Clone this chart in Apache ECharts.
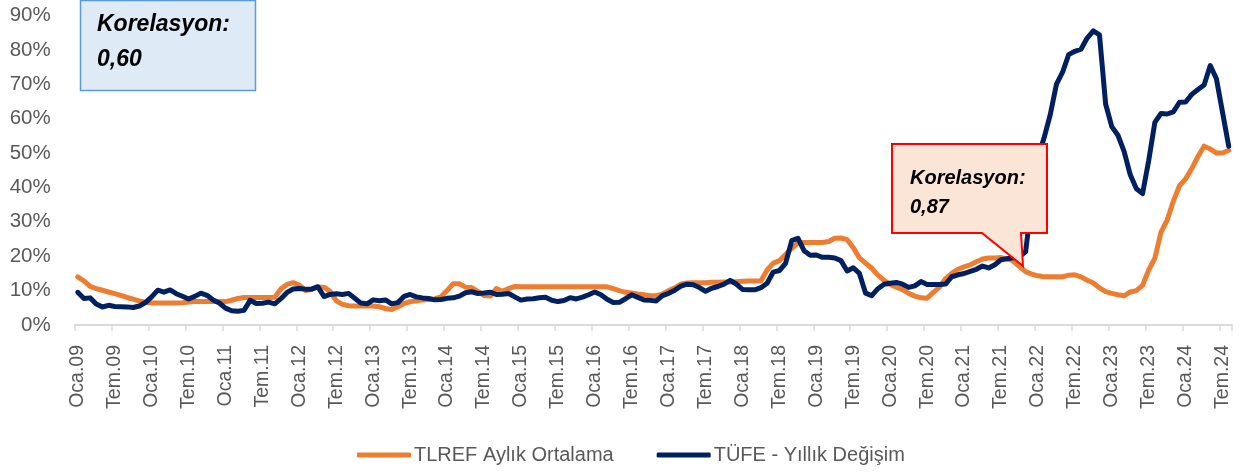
<!DOCTYPE html>
<html>
<head>
<meta charset="utf-8">
<script src="https://cdn.jsdelivr.net/npm/echarts@6/dist/echarts.min.js"></script>
<style>
html,body{margin:0;padding:0;background:#fff;}
#c{width:1245px;height:472px;}
</style>
</head>
<body>
<div id="c"></div>
<script>
// Turkish month abbreviations and years (Oca.09 ... Ağu.24)
const monthNames = ['Oca','Şub','Mar','Nis','May','Haz','Tem','Ağu','Eyl','Eki','Kas','Ara'];
const years = ['09','10','11','12','13','14','15','16','17','18','19','20','21','22','23','24'];
const lastYearMonths = 8;

// TLREF monthly average (%)
const tlref = [
  14.0,12.8,11.2,10.6,10.1,9.6,9.1,8.6,8.0,7.5,7.0,6.6,
  6.4,6.4,6.4,6.4,6.4,6.5,6.7,6.8,6.8,6.8,6.8,6.8,
  6.8,7.2,7.7,8.0,8.0,8.0,8.0,8.0,8.1,10.5,11.8,12.3,
  11.6,10.0,10.4,11.0,11.0,9.8,7.0,6.0,5.6,5.5,5.5,5.5,
  5.5,5.3,4.8,4.5,5.3,6.2,6.8,7.0,7.3,7.4,7.6,8.2,
  10.0,12.0,12.0,11.0,10.9,9.8,8.6,8.4,10.6,9.8,10.6,11.2,
  11.1,11.1,11.1,11.1,11.1,11.1,11.1,11.1,11.1,11.1,11.1,11.1,
  11.1,11.1,11.1,10.6,10.0,9.5,9.3,9.0,8.8,8.5,8.5,9.0,
  10.0,10.8,11.9,12.2,12.3,12.3,12.3,12.4,12.4,12.5,12.5,12.6,
  12.7,12.8,12.8,12.9,16.0,18.0,18.7,20.5,22.3,23.9,24.0,24.0,
  24.0,24.0,24.3,25.2,25.3,24.8,22.5,19.5,18.0,16.5,14.5,13.0,
  11.8,11.0,10.3,9.2,8.4,7.9,7.8,9.5,11.0,13.5,15.0,16.2,
  16.9,17.5,18.4,19.2,19.5,19.5,19.6,19.3,18.6,17.0,15.5,14.8,
  14.3,14.0,14.0,14.0,14.0,14.5,14.6,14.0,13.0,12.2,10.8,9.7,
  9.2,8.8,8.5,9.6,10.0,11.5,16.0,19.4,27.0,30.5,36.0,40.5,
  42.5,45.5,49.0,52.0,51.2,50.0,50.0,50.8
];

// TÜFE annual change (%)
const tufe = [
  9.50,7.73,7.89,6.13,5.24,5.73,5.39,5.33,5.27,5.08,5.53,6.53,
  8.19,10.13,9.56,10.19,9.10,8.37,7.58,8.33,9.24,8.62,7.29,6.40,
  4.90,4.16,3.99,4.26,7.17,6.24,6.31,6.65,6.15,7.66,9.48,10.45,
  10.61,10.43,10.43,11.14,8.28,8.87,9.07,8.88,9.19,7.80,6.37,6.16,
  7.31,7.03,7.29,6.13,6.51,8.30,8.88,8.17,7.88,7.71,7.32,7.40,
  7.75,7.89,8.39,9.38,9.66,9.16,9.32,9.54,8.86,8.96,9.15,8.17,
  7.24,7.55,7.61,7.91,8.09,7.20,6.81,7.14,7.95,7.58,8.10,8.81,
  9.58,8.78,7.46,6.57,6.58,7.64,8.79,8.05,7.28,7.16,7.00,8.53,
  9.22,10.13,11.29,11.87,11.72,10.90,9.79,10.68,11.20,11.90,12.98,11.92,
  10.35,10.26,10.23,10.85,12.15,15.39,15.85,17.90,24.52,25.24,21.62,20.30,
  20.35,19.67,19.71,19.50,18.71,15.72,16.65,15.01,9.26,8.55,10.56,11.84,
  12.15,12.37,11.86,10.94,11.39,12.62,11.76,11.77,11.75,11.89,14.03,14.60,
  14.97,15.61,16.19,17.14,16.59,17.53,18.95,19.25,19.58,19.89,21.31,36.08,
  48.69,54.44,61.14,69.97,73.50,78.62,79.60,80.21,83.45,85.51,84.39,64.27,
  57.68,55.18,50.51,43.68,39.59,38.21,47.83,58.94,61.53,61.36,61.98,64.77,
  64.86,67.07,68.50,69.80,75.45,71.60,61.78,51.97
];

const seriesNames = ['TLREF Aylık Ortalama', 'TÜFE - Yıllık Değişim'];
const corrTexts = [['Korelasyon:', '0,60'], ['Korelasyon:', '0,87']];

const categories = [];
years.forEach((y, yi) => {
  const n = yi === years.length - 1 ? lastYearMonths : 12;
  for (let m = 0; m < n; m++) categories.push(monthNames[m] + '.' + y);
});

const FONT = 'Liberation Sans';
const chart = echarts.init(document.getElementById('c'), null, {renderer: 'canvas'});
chart.setOption({
  animation: false,
  backgroundColor: '#ffffff',
  textStyle: {fontFamily: FONT},
  grid: {left: 74.7, right: 13.2, top: 15.5, bottom: 147, containLabel: false},
  legend: {
    left: 352, top: 440,
    itemWidth: 54, itemHeight: 5, itemGap: 43,
    icon: 'roundRect',
    textStyle: {fontSize: 20, color: '#595959', fontFamily: FONT, padding: [0, 0, 0, -2]},
    data: seriesNames
  },
  xAxis: {
    type: 'category',
    data: categories,
    boundaryGap: true,
    axisLine: {lineStyle: {color: '#D9D9D9', width: 2}},
    axisTick: {show: true, interval: 5, length: 6, alignWithLabel: false, lineStyle: {color: '#D9D9D9', width: 1.5}},
    axisLabel: {interval: 5, rotate: 90, margin: 20, fontSize: 19.5, color: '#595959', fontFamily: FONT},
    splitLine: {show: false}
  },
  yAxis: {
    type: 'value',
    min: 0, max: 90, interval: 10,
    axisLine: {show: false},
    axisTick: {show: false},
    splitLine: {show: false},
    axisLabel: {formatter: '{value}%', fontSize: 20.5, color: '#595959', margin: 24, fontFamily: FONT}
  },
  series: [
    {
      name: seriesNames[0], type: 'line', data: tlref, symbol: 'none', smooth: false,
      itemStyle: {color: '#ED7D31'},
      lineStyle: {color: '#ED7D31', width: 5, cap: 'round', join: 'round'}
    },
    {
      name: seriesNames[1], type: 'line', data: tufe, symbol: 'none', smooth: false,
      itemStyle: {color: '#002060'},
      lineStyle: {color: '#002060', width: 5, cap: 'round', join: 'round'}
    }
  ],
  graphic: [
    {
      type: 'rect', shape: {x: 80.5, y: 0.5, width: 175, height: 90},
      style: {fill: '#DEEBF7', stroke: '#5B9BD5', lineWidth: 1.5}, z: 100
    },
    {
      type: 'text', x: 97, y: 25, z: 101,
      style: {text: corrTexts[0][0], font: 'italic bold 23px "Liberation Sans"', fill: '#000', verticalAlign: 'middle'}
    },
    {
      type: 'text', x: 97, y: 60, z: 101,
      style: {text: corrTexts[0][1], font: 'italic bold 23px "Liberation Sans"', fill: '#000', verticalAlign: 'middle'}
    },
    {
      type: 'polygon', z: 100,
      shape: {points: [[892,144],[1047,144],[1047,233],[1021,233],[1023,266],[982,233],[892,233]]},
      style: {fill: '#FBE5D6', stroke: '#FF0000', lineWidth: 2}
    },
    {
      type: 'text', x: 910, y: 178, z: 101,
      style: {text: corrTexts[1][0], font: 'italic bold 20px "Liberation Sans"', fill: '#000', verticalAlign: 'middle'}
    },
    {
      type: 'text', x: 910, y: 207, z: 101,
      style: {text: corrTexts[1][1], font: 'italic bold 20px "Liberation Sans"', fill: '#000', verticalAlign: 'middle'}
    }
  ]
});
</script>
</body>
</html>
